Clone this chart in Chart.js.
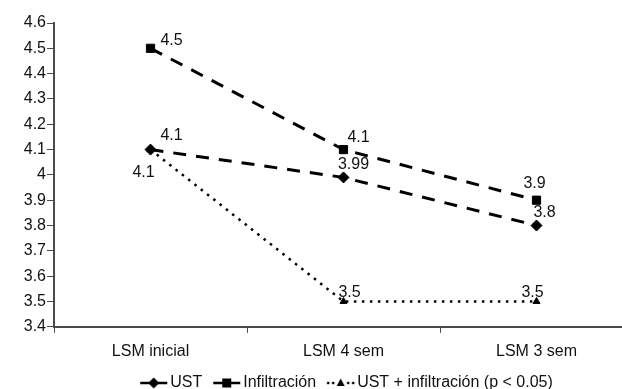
<!DOCTYPE html>
<html>
<head>
<meta charset="utf-8">
<script src="https://cdn.jsdelivr.net/npm/chart.js@4/dist/chart.umd.min.js"></script>
<style>
  html, body { margin: 0; padding: 0; background: #fff; overflow: hidden; }
  #wrap { position: relative; width: 640px; height: 407px; }
</style>
</head>
<body>
<div id="wrap"><canvas id="c"></canvas></div>
<script>
// Time points and liver stiffness values per group
const categories = ['LSM inicial', 'LSM 4 sem', 'LSM 3 sem'];
const ustValues = [4.1, 3.99, 3.8];
const infiltracionValues = [4.5, 4.1, 3.9];
const ustInfiltracionValues = [4.1, 3.5, 3.5];
const seriesNames = ['UST', 'Infiltración', 'UST + infiltración (p < 0.05)'];
const yTicks = [3.4, 3.5, 3.6, 3.7, 3.8, 3.9, 4, 4.1, 4.2, 4.3, 4.4, 4.5, 4.6];

// Value-label placement (dx, dy from each point), per series
const labelOffsets = [
  [[21, -14], [10, -13], [8, -13]],
  [[21, -8], [15, -12], [-2, -17]],
  [[-7, 23], [6, -9], [-4, -9]]
];

const FONT = '"Liberation Sans", Arial, Helvetica, sans-serif';
const INK = '#111';
const AXIS = '#4a4a4a';

// Small legend swatch: line sample with the series marker in the middle
function swatch(kind) {
  const c = document.createElement('canvas');
  c.width = 48; c.height = 16;
  const g = c.getContext('2d');
  g.fillStyle = '#000'; g.strokeStyle = '#000';
  const x0 = 16, x1 = 43, cx = (x0 + x1) / 2, cy = 8;
  if (kind === 'dot') {
    [x0 + 1, x0 + 6, x1 - 6, x1 - 1].forEach(x => { g.fillRect(x - 1.2, cy - 1.2, 2.4, 2.4); });
  } else {
    g.lineWidth = 2.5;
    g.beginPath(); g.moveTo(x0, cy); g.lineTo(cx - 4, cy); g.moveTo(cx + 4, cy); g.lineTo(x1, cy); g.stroke();
  }
  g.beginPath();
  if (kind === 'diamond') {
    g.moveTo(cx, cy - 5.5); g.lineTo(cx + 5.5, cy); g.lineTo(cx, cy + 5.5); g.lineTo(cx - 5.5, cy);
  } else if (kind === 'square') {
    g.rect(cx - 4.5, cy - 4.5, 9, 9);
  } else {
    g.moveTo(cx, cy - 4.5); g.lineTo(cx + 4, cy + 3); g.lineTo(cx - 4, cy + 3);
  }
  g.closePath(); g.fill();
  return c;
}
const legendSwatches = [swatch('diamond'), swatch('square'), swatch('dot')];

// Draws each point's value next to it
const valueLabels = {
  id: 'valueLabels',
  afterDatasetsDraw(chart) {
    const ctx = chart.ctx;
    ctx.save();
    ctx.font = '16px ' + FONT;
    ctx.fillStyle = INK;
    ctx.textAlign = 'center';
    ctx.textBaseline = 'middle';
    chart.data.datasets.forEach((ds, di) => {
      const meta = chart.getDatasetMeta(di);
      meta.data.forEach((pt, i) => {
        const off = labelOffsets[di][i];
        ctx.fillText(String(ds.data[i]), pt.x + off[0], pt.y + off[1]);
      });
    });
    ctx.restore();
  }
};

new Chart(document.getElementById('c'), {
  type: 'line',
  data: {
    labels: categories,
    datasets: [
      {
        label: seriesNames[0], data: ustValues,
        borderColor: '#000', backgroundColor: '#000', borderWidth: 3, borderDash: [13, 10],
        pointStyle: 'rectRot', pointRadius: 5.5, pointBorderWidth: 1, pointBackgroundColor: '#000',
        tension: 0, fill: false
      },
      {
        label: seriesNames[1], data: infiltracionValues,
        borderColor: '#000', backgroundColor: '#000', borderWidth: 3, borderDash: [13, 10],
        pointStyle: 'rect', pointRadius: 5.8, pointBorderWidth: 1, pointBackgroundColor: '#000',
        tension: 0, fill: false
      },
      {
        label: seriesNames[2], data: ustInfiltracionValues,
        borderColor: '#000', backgroundColor: '#000', borderWidth: 2.5, borderDash: [2.5, 5.5],
        pointStyle: 'triangle', pointRadius: 4, pointBorderWidth: 1, pointBackgroundColor: '#000',
        tension: 0, fill: false
      }
    ]
  },
  options: {
    responsive: true,
    maintainAspectRatio: false,
    animation: false,
    devicePixelRatio: 1,
    layout: { padding: { left: 0, right: 7, top: 23, bottom: 6 } },
    plugins: {
      tooltip: { enabled: false },
      legend: {
        position: 'bottom',
        fullSize: false,
        labels: {
          usePointStyle: true,
          pointStyleWidth: 28,
          padding: 5,
          color: INK,
          font: { family: FONT, size: 16 },
          generateLabels(chart) {
            return chart.data.datasets.map((ds, i) => ({
              text: ds.label,
              pointStyle: legendSwatches[i],
              fillStyle: '#000',
              strokeStyle: '#000',
              lineWidth: 0,
              hidden: false,
              datasetIndex: i,
              fontColor: INK
            }));
          }
        }
      }
    },
    scales: {
      x: {
        type: 'category',
        offset: true,
        grid: { offset: true, drawOnChartArea: false, drawTicks: true, tickLength: 6, color: AXIS, lineWidth: 1 },
        border: { display: true, color: AXIS, width: 2 },
        ticks: { color: INK, font: { family: FONT, size: 16 }, padding: 9, maxRotation: 0 }
      },
      y: {
        min: 3.4, max: 4.6,
        afterFit(scale) { scale.width = 54; },
        afterBuildTicks(scale) { scale.ticks = yTicks.map(v => ({ value: v })); },
        grid: { drawOnChartArea: false, drawTicks: true, tickLength: 7, color: AXIS, lineWidth: 1 },
        border: { display: true, color: AXIS, width: 2 },
        ticks: {
          color: INK, font: { family: FONT, size: 16 }, padding: 1,
          callback: v => String(Math.round(v * 10) / 10)
        }
      }
    }
  },
  plugins: [valueLabels]
});
</script>
</body>
</html>
